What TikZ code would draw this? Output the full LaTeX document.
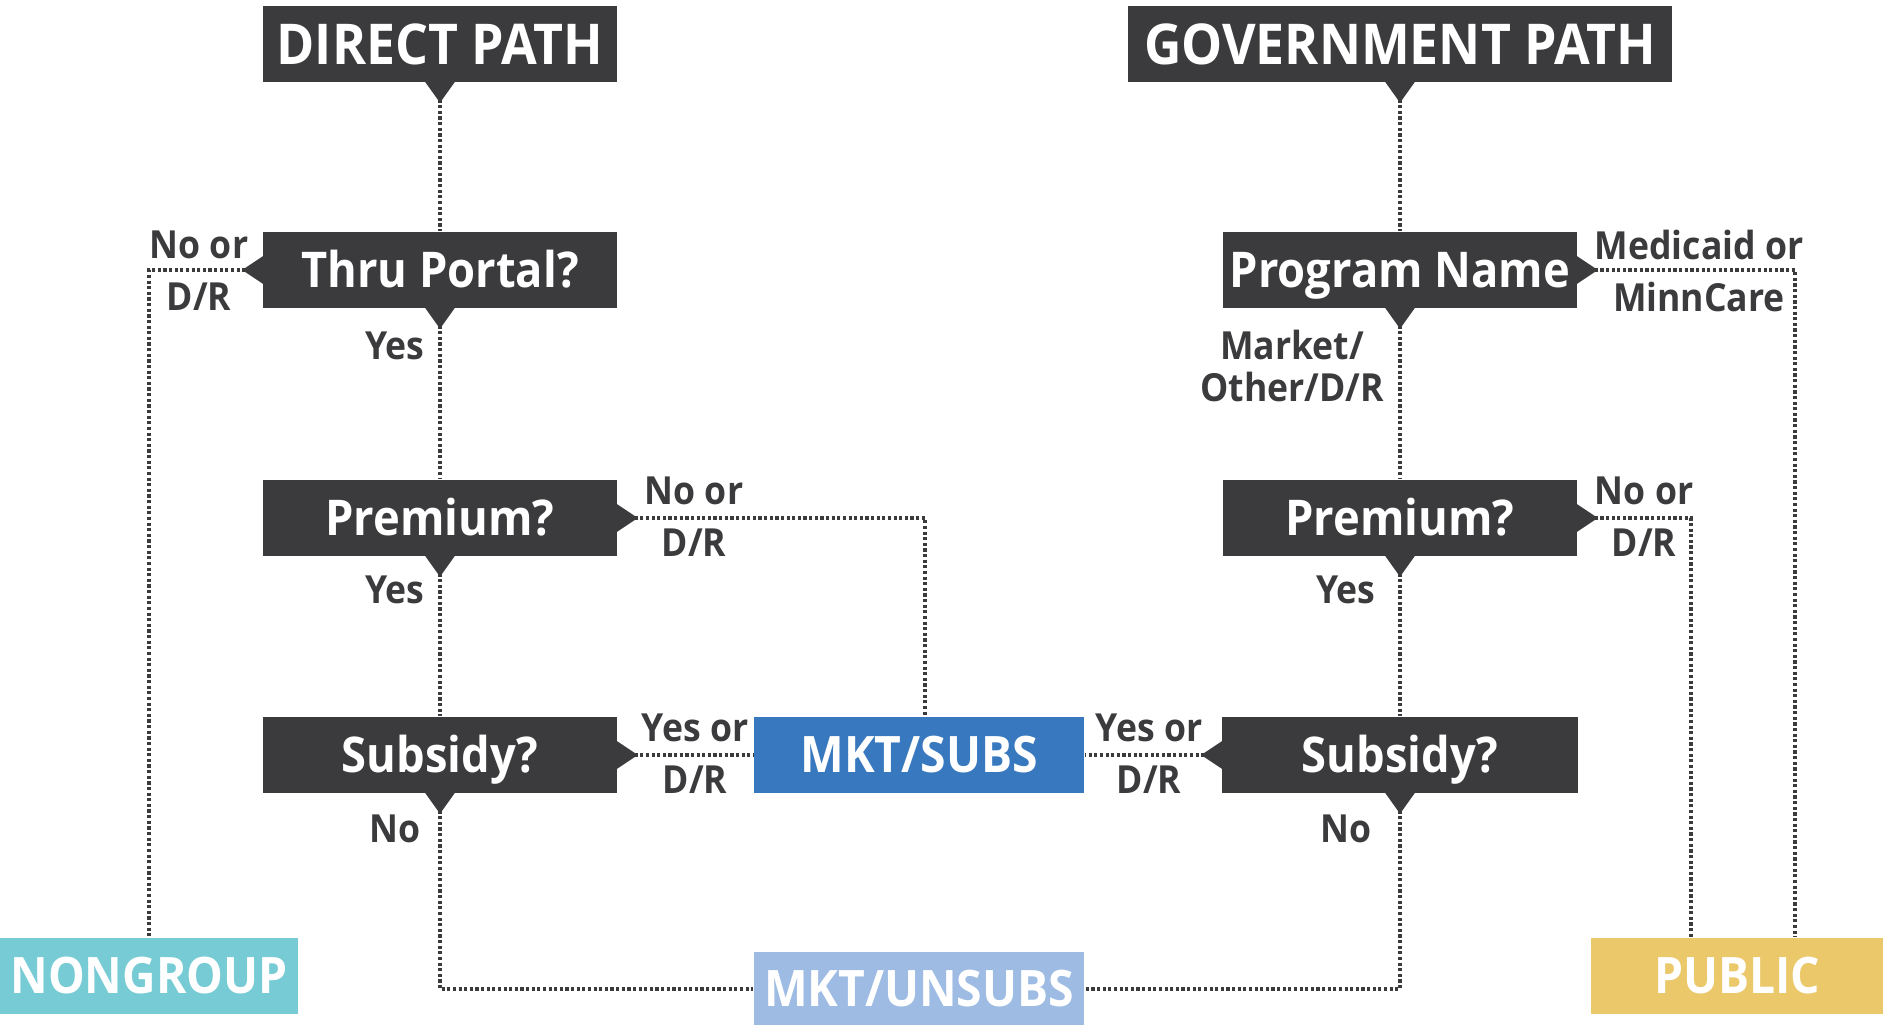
\documentclass[tikz,border=0pt]{standalone}
\usepackage{fontspec}
\setmainfont{Open Sans}[FakeStretch=0.92]
\usetikzlibrary{positioning}
\definecolor{boxgray}{HTML}{3B3B3D}
\definecolor{subsblue}{HTML}{3878BE}
\definecolor{unsubsblue}{HTML}{9DBBE3}
\definecolor{nongteal}{HTML}{77CBD5}
\definecolor{pubyellow}{HTML}{EBC86A}

\begin{document}
\begin{tikzpicture}[x=0.01cm,y=-0.01cm,
box/.style={fill=boxgray,text=white,font=\bfseries\fontsize{14}{16}\selectfont,text height=10pt,text depth=0pt,minimum width=3.54cm,minimum height=7.6mm,inner sep=0pt},
title/.style={box,font=\bfseries\fontsize{16}{18}\selectfont,text height=11.4pt},
leaf/.style={text=white,font=\bfseries\fontsize{14.3}{16}\selectfont,text height=10.2pt,text depth=0pt,minimum height=7.6mm,inner sep=0pt},
link/.style={draw=boxgray,line width=1.1pt,dash pattern=on 0.9pt off 0.7pt},
lbl/.style={text=boxgray,font=\bfseries\fontsize{11}{14.7}\selectfont,align=center,inner sep=0pt}]
\useasboundingbox (0,0) rectangle (1883,1025);

% direct path column
\node[title] (dp) at (440,44) {DIRECT PATH};
\node[box] (thru) at (440,270) {Thru Portal?};
\node[box] (premL) at (440,518) {Premium?};
\node[box] (subL) at (440,755) {Subsidy?};
% government path column
\node[title,minimum width=5.44cm] (gp) at (1400,44) {GOVERNMENT PATH};
\node[box] (prog) at (1400,270) {Program Name};
\node[box] (premR) at (1400,518) {Premium?};
\node[box,minimum width=3.56cm] (subR) at (1400,755) {Subsidy?};
% outcomes
\node[leaf,fill=subsblue,minimum width=3.3cm] (subs) at (919,755) {MKT/SUBS};
\node[leaf,fill=unsubsblue,minimum width=3.3cm,minimum height=7.3mm] (unsubs) at (919,989) {MKT/UNSUBS};
\node[leaf,fill=nongteal,minimum width=2.98cm] (nong) at (149,976) {NONGROUP};
\node[leaf,fill=pubyellow,minimum width=2.92cm] (pub) at (1737,976) {PUBLIC};

% connectors
\draw[link] (dp.south) -- (thru.north);
\draw[link] (thru.west) -| (nong.north);
\draw[link] (thru.south) -- (premL.north);
\draw[link] (premL.east) -| ([xshift=0.6mm]subs.north);
\draw[link] (premL.south) -- (subL.north);
\draw[link] (subL.east) -- (subs.west);
\draw[link] (subL.south) |- (unsubs.west);
\draw[link] (gp.south) -- (prog.north);
\draw[link] (prog.east) -| ([xshift=5.8mm]pub.north);
\draw[link] (prog.south) -- (premR.north);
\draw[link] (premR.east) -| ([xshift=-4.6mm]pub.north);
\draw[link] (premR.south) -- (subR.north);
\draw[link] (subR.west) -- (subs.east);
\draw[link] (subR.south) |- (unsubs.east);

% pointers
\foreach \n in {dp,gp,thru,prog,premL,premR,subL,subR}
  \fill[boxgray] (\n.south) ++(-15,-1) -- ++(30,0) -- ++(-15,21) -- cycle;
\foreach \n in {prog,premL,premR,subL}
  \fill[boxgray] (\n.east) ++(-1,-14) -- ++(0,28) -- ++(21,-14) -- cycle;
\foreach \n in {thru,subR}
  \fill[boxgray] (\n.west) ++(1,-14) -- ++(0,28) -- ++(-21,-14) -- cycle;

% labels
\node[lbl] (l1) at (199,271) {No or\\D/R};
\node[lbl] (l2) at (395,346) {Yes};
\node[lbl] (l3) at (694,517) {No or\\D/R};
\node[lbl] (l4) at (395,590) {Yes};
\node[lbl] (l5) at (695,754) {Yes or\\D/R};
\node[lbl] (l6) at (395,829) {No};
\node[lbl] (l7) at (1149,754) {Yes or\\D/R};
\node[lbl] (l8) at (1346,829) {No};
\node[lbl] (l9) at (1346,590) {Yes};
\node[lbl] (l10) at (1644,517) {No or\\D/R};
\node[lbl] (l11) at (1699,271) {Medicaid or\\MinnCare};
\node[lbl,font=\bfseries\fontsize{11}{12}\selectfont] (l12) at (1292,366) {Market/\\Other/D/R};
\end{tikzpicture}
\end{document}
